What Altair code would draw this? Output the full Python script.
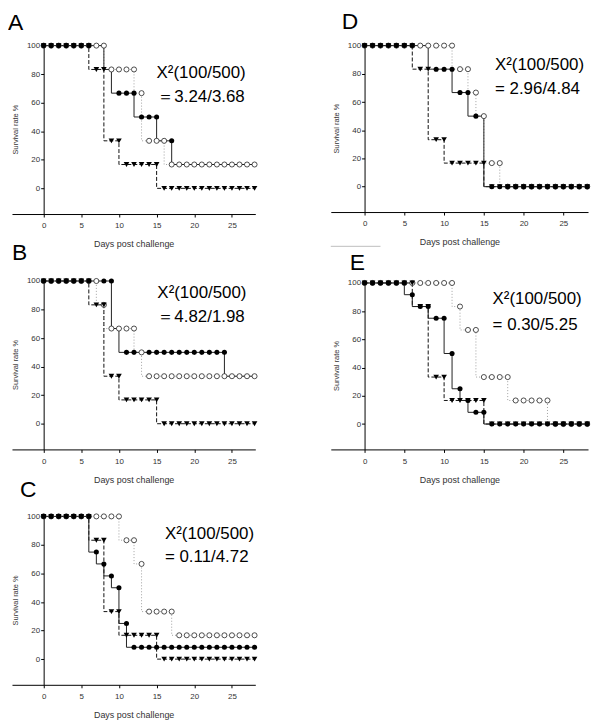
import altair as alt
import pandas as pd

days = list(range(29))

# ---- survival values per day (marker values, % surviving) ----
A_control = [100,100,100,100,100,100,100,83.3,83.3,33.3,33.3,16.7,16.7,16.7,16.7,16.7,0,0,0,0,0,0,0,0,0,0,0,0,0]
A_filled = [100,100,100,100,100,100,100,100,100,83.3,66.7,66.7,66.7,50,50,50,33.3,33.3,16.7,16.7,16.7,16.7,16.7,16.7,16.7,16.7,16.7,16.7,16.7]
A_open = [100,100,100,100,100,100,100,100,100,83.3,83.3,83.3,83.3,66.7,33.3,33.3,33.3,16.7,16.7,16.7,16.7,16.7,16.7,16.7,16.7,16.7,16.7,16.7,16.7]
A_hidden = [7,8,9,16,18,19,20,21,22,23,24,25,26,27,28]

B_control = [100,100,100,100,100,100,100,83.3,83.3,33.3,33.3,16.7,16.7,16.7,16.7,16.7,0,0,0,0,0,0,0,0,0,0,0,0,0]
B_filled = [100,100,100,100,100,100,100,100,100,100,66.7,50,50,50,50,50,50,50,50,50,50,50,50,50,50,33.3,33.3,33.3,33.3]
B_open = [100,100,100,100,100,100,100,100,83.3,66.7,66.7,66.7,66.7,50,33.3,33.3,33.3,33.3,33.3,33.3,33.3,33.3,33.3,33.3,33.3,33.3,33.3,33.3,33.3]
B_hidden = [7,10,13,25,26,27,28]

C_control = [100,100,100,100,100,100,100,83.3,83.3,33.3,33.3,16.7,16.7,16.7,16.7,16.7,0,0,0,0,0,0,0,0,0,0,0,0,0]
C_filled = [100,100,100,100,100,100,100,75,66.7,58.3,50,25,8.3,8.3,8.3,8.3,8.3,8.3,8.3,8.3,8.3,8.3,8.3,8.3,8.3,8.3,8.3,8.3,8.3]
C_open = [100,100,100,100,100,100,100,100,100,100,100,83.3,83.3,66.7,33.3,33.3,33.3,33.3,16.7,16.7,16.7,16.7,16.7,16.7,16.7,16.7,16.7,16.7,16.7]
C_hidden = []

D_control = [100,100,100,100,100,100,100,83.3,83.3,33.3,33.3,16.7,16.7,16.7,16.7,16.7,0,0,0,0,0,0,0,0,0,0,0,0,0]
D_filled = [100,100,100,100,100,100,100,100,100,83.3,83.3,83.3,66.7,66.7,50,50,0,0,0,0,0,0,0,0,0,0,0,0,0]
D_open = [100,100,100,100,100,100,100,100,100,100,100,100,83.3,83.3,66.7,50,16.7,16.7,0,0,0,0,0,0,0,0,0,0,0]
D_hidden = [7,8,15]

E_control = [100,100,100,100,100,100,100,83.3,83.3,33.3,33.3,16.7,16.7,16.7,16.7,16.7,0,0,0,0,0,0,0,0,0,0,0,0,0]
E_filled = [100,100,100,100,100,100,91.7,83.3,83.3,75,75,50,25,16.7,8.3,8.3,0,0,0,0,0,0,0,0,0,0,0,0,0]
E_open = [100,100,100,100,100,100,100,100,100,100,100,100,83.3,66.7,66.7,33.3,33.3,33.3,33.3,16.7,16.7,16.7,16.7,16.7,0,0,0,0,0]
E_hidden = []

# ---- annotation texts ----
A_text = ["X\u00b2(100/500)", "\uff1d3.24/3.68"]
B_text = ["X\u00b2(100/500)", "\uff1d4.82/1.98"]
C_text = ["X\u00b2(100/500)", "= 0.11/4.72"]
D_text = ["X\u00b2(100/500)", "= 2.96/4.84"]
E_text = ["X\u00b2(100/500)", "= 0.30/5.25"]

x_ticks = [0, 5, 10, 15, 20, 25]
y_ticks = [0, 20, 40, 60, 80, 100]

FONT = "Arial"


def make_panel(letter, control, filled, open_, hidden, texts, text_pos,
               width, height, xdom, yoff, tdx, toff, extra=None):
    ctrl_df = pd.DataFrame({"day": days, "surv": control})
    fill_df = pd.DataFrame({"day": days, "surv": filled})
    open_df = pd.DataFrame({"day": days, "surv": open_})
    fill_pts = fill_df[~fill_df["day"].isin(hidden)]
    ann_df = pd.DataFrame({"day": [p[0] for p in text_pos],
                           "surv": [p[1] for p in text_pos],
                           "label": texts})

    x = alt.X("day:Q",
              scale=alt.Scale(domain=xdom, nice=False, zero=False),
              axis=alt.Axis(values=x_ticks, title="Days post challenge",
                            labelPadding=5, titlePadding=10, titleFontSize=9,
                            tickSize=3))
    y = alt.Y("surv:Q",
              scale=alt.Scale(domain=[-18, 101], nice=False, zero=False),
              axis=alt.Axis(values=y_ticks, title="Survival rate %",
                            offset=yoff, labelPadding=1, titlePadding=7,
                            titleFontSize=7.5, tickSize=3))

    line_open = alt.Chart(open_df).mark_line(
        interpolate="step-before", color="#a0a0a0", strokeWidth=1,
        strokeDash=[1, 2]).encode(x=x, y=y)
    line_ctrl = alt.Chart(ctrl_df).mark_line(
        interpolate="step-before", color="#111111", strokeWidth=1,
        strokeDash=[4, 2]).encode(x=x, y=y)
    line_fill = alt.Chart(fill_df).mark_line(
        interpolate="step-before", color="#222222", strokeWidth=1).encode(x=x, y=y)

    pts_open = alt.Chart(open_df).mark_point(
        shape="circle", filled=True, fill="white", stroke="#222222",
        strokeWidth=0.8, size=26, opacity=1).encode(x=x, y=y)
    pts_ctrl = alt.Chart(ctrl_df).mark_point(
        shape="triangle-down", filled=True, color="black", size=32,
        opacity=1).encode(x=x, y=y)
    pts_fill = alt.Chart(fill_pts).mark_point(
        shape="circle", filled=True, color="black", size=26,
        opacity=1).encode(x=x, y=y)

    txt = alt.Chart(ann_df).mark_text(
        align="left", baseline="alphabetic", fontSize=17, font=FONT,
        color="black").encode(x=x, y=y, text="label:N")

    layers = [line_open, line_ctrl, line_fill, pts_open, pts_ctrl, pts_fill, txt]
    if extra is not None:
        ex_df = pd.DataFrame({"day": [extra[0]], "day2": [extra[1]],
                              "surv": [extra[2]]})
        layers.append(alt.Chart(ex_df).mark_rule(
            color="#bdbdbd", strokeWidth=1).encode(
            x=x, x2="day2:Q", y=y))

    return alt.layer(*layers).properties(
        width=width, height=height,
        title=alt.TitleParams(text=letter, dx=tdx, offset=toff))


LW, LH = 245, 171
RW, RH = 259, 169
LDOM = [-4.2, 28.1]
RDOM = [-4.25, 28.1]
LOFF = -31.9
ROFF = -34.0

# faint stray separator line seen just above panel E (day start, day end, level)
stray_line = (-4.25, 2.0, -42.3)

pA = make_panel("A", A_control, A_filled, A_open, A_hidden, A_text,
                [(15.0, 77.5), (15.1, 60.5)], LW, LH, LDOM, LOFF, -4, 7)
pB = make_panel("B", B_control, B_filled, B_open, B_hidden, B_text,
                [(15.1, 88), (15.1, 71)], LW, LH, LDOM, LOFF, 0, 12)
pC = make_panel("C", C_control, C_filled, C_open, C_hidden, C_text,
                [(16.1, 84), (16.1, 68)], LW, LH, LDOM, LOFF, 8, 10)
pD = make_panel("D", D_control, D_filled, D_open, D_hidden, D_text,
                [(16.4, 83), (16.4, 65.5)], RW, RH, RDOM, ROFF, 11, 8,
                extra=stray_line)
pE = make_panel("E", E_control, E_filled, E_open, E_hidden, E_text,
                [(16.1, 85), (16.1, 67)], RW, RH, RDOM, ROFF, 19, 4)

left = alt.vconcat(pA, pB, pC, spacing=66, bounds="flush")
right = alt.vconcat(pD, pE, spacing=70, bounds="flush")

chart = alt.hconcat(left, right, spacing=71).properties(
    padding=0
).configure_view(stroke=None).configure_axis(
    grid=False, domainColor="black", domainWidth=1, tickColor="black",
    labelFont=FONT, labelFontSize=8, labelColor="#333333",
    titleFont=FONT, titleFontWeight="normal", titleColor="#333333"
).configure_title(
    font=FONT, fontSize=23, fontWeight="normal", anchor="start",
    frame="group", baseline="alphabetic", color="black"
)

chart.save("out.html", embed_options={"renderer": "svg", "actions": False})
